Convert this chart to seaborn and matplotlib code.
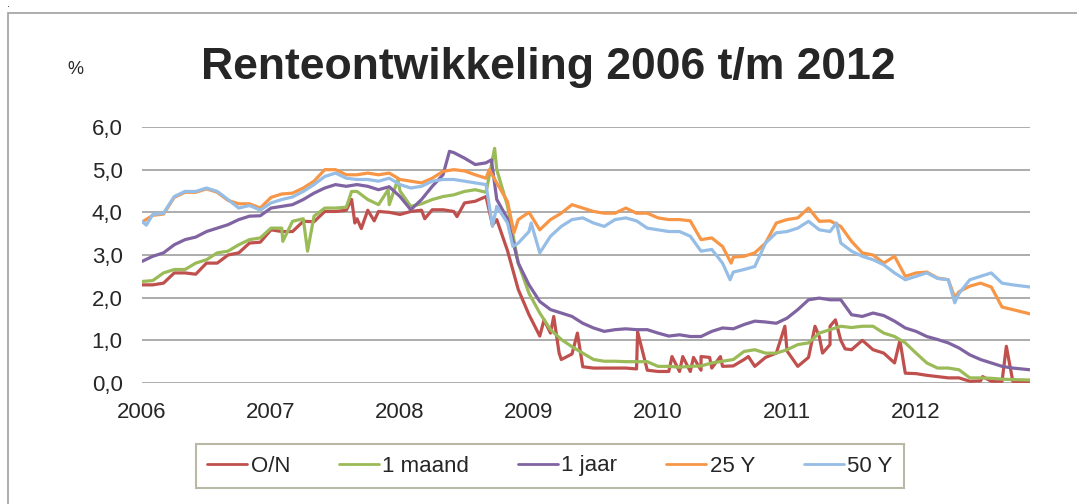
import numpy as np
import pandas as pd
import matplotlib.pyplot as plt
from matplotlib.patches import Rectangle
import seaborn as sns

# month index 0 = jan 2006, last point is mid nov 2012
months = list(range(82)) + [82.6]

on_rate = [2.30, 2.30, 2.34, 2.58, 2.58, 2.55, 2.81, 2.81, 3.00, 3.05,
           3.28, 3.30, 3.59, 3.55, 3.55, 3.79, 3.78, 4.02, 4.02, 4.05,
           3.85, 4.05, 4.02, 4.00, 3.95, 4.02, 4.05, 4.06, 4.06, 4.02,
           4.22, 4.26, 4.37, 3.83, 3.10, 2.19, 1.60, 1.10, 1.17, 0.55,
           0.68, 0.38, 0.35, 0.35, 0.35, 0.35, 0.33, 0.30, 0.27, 0.27,
           0.27, 0.27, 0.30, 0.35, 0.39, 0.40, 0.55, 0.39, 0.60, 0.70,
           0.75, 0.39, 0.60, 1.09, 0.90, 1.00, 0.78, 1.00, 0.78, 0.70,
           0.47, 0.23, 0.22, 0.18, 0.15, 0.12, 0.12, 0.04, 0.05, 0.04,
           0.04, 0.04, 0.03]
maand_1 = [2.38, 2.40, 2.58, 2.66, 2.66, 2.81, 2.89, 3.05, 3.09, 3.24,
           3.36, 3.40, 3.63, 3.63, 3.79, 3.85, 3.91, 4.10, 4.10, 4.12,
           4.49, 4.30, 4.18, 4.18, 4.50, 4.14, 4.20, 4.30, 4.37, 4.41,
           4.49, 4.53, 4.47, 5.00, 4.15, 2.81, 2.10, 1.64, 1.25, 1.02,
           0.85, 0.70, 0.55, 0.51, 0.51, 0.50, 0.50, 0.50, 0.39, 0.39,
           0.37, 0.39, 0.40, 0.47, 0.51, 0.55, 0.74, 0.78, 0.70, 0.70,
           0.78, 0.90, 0.94, 1.17, 1.25, 1.33, 1.30, 1.33, 1.33, 1.17,
           1.09, 0.94, 0.70, 0.47, 0.35, 0.35, 0.31, 0.12, 0.12, 0.11,
           0.09, 0.08, 0.07]
jaar_1 = [2.85, 2.97, 3.05, 3.24, 3.36, 3.42, 3.55, 3.63, 3.71, 3.83,
          3.91, 3.92, 4.10, 4.14, 4.18, 4.30, 4.45, 4.57, 4.65, 4.61,
          4.65, 4.61, 4.53, 4.60, 4.37, 4.06, 4.30, 4.61, 4.88, 5.40,
          5.27, 5.12, 5.16, 4.30, 3.85, 2.81, 2.30, 1.91, 1.72, 1.64,
          1.56, 1.40, 1.29, 1.21, 1.25, 1.27, 1.25, 1.25, 1.17, 1.10,
          1.13, 1.09, 1.09, 1.21, 1.29, 1.27, 1.37, 1.45, 1.43, 1.40,
          1.52, 1.72, 1.95, 1.99, 1.95, 1.95, 1.60, 1.56, 1.64, 1.58,
          1.45, 1.29, 1.21, 1.09, 1.02, 0.94, 0.82, 0.66, 0.55, 0.47,
          0.39, 0.35, 0.31]
jaar_25 = [3.77, 3.93, 3.96, 4.35, 4.47, 4.47, 4.55, 4.47, 4.28, 4.20,
           4.20, 4.10, 4.35, 4.43, 4.45, 4.57, 4.73, 5.00, 5.00, 4.88,
           4.88, 4.92, 4.88, 4.92, 4.77, 4.73, 4.69, 4.80, 4.96, 5.00,
           4.97, 4.88, 4.80, 4.69, 4.25, 3.83, 4.00, 3.59, 3.83, 3.98,
           4.18, 4.10, 4.02, 3.98, 3.98, 4.10, 3.98, 3.98, 3.87, 3.83,
           3.83, 3.80, 3.36, 3.40, 3.20, 2.95, 2.97, 3.05, 3.28, 3.75,
           3.83, 3.87, 4.10, 3.79, 3.80, 3.67, 3.32, 3.05, 3.00, 2.81,
           2.97, 2.50, 2.58, 2.60, 2.46, 2.42, 2.14, 2.27, 2.34, 2.25,
           1.78, 1.72, 1.62]
jaar_50 = [3.79, 3.95, 3.98, 4.37, 4.49, 4.49, 4.57, 4.49, 4.30, 4.10,
           4.16, 4.05, 4.22, 4.30, 4.36, 4.49, 4.65, 4.84, 4.92, 4.80,
           4.77, 4.77, 4.73, 4.80, 4.65, 4.57, 4.61, 4.73, 4.77, 4.77,
           4.73, 4.69, 4.65, 4.14, 3.75, 3.28, 3.55, 3.05, 3.44, 3.67,
           3.83, 3.87, 3.75, 3.67, 3.83, 3.87, 3.80, 3.63, 3.59, 3.55,
           3.55, 3.44, 3.09, 3.13, 2.81, 2.60, 2.66, 2.73, 3.28, 3.52,
           3.55, 3.63, 3.79, 3.59, 3.55, 3.28, 3.09, 2.97, 2.89, 2.77,
           2.58, 2.42, 2.50, 2.58, 2.45, 2.42, 2.10, 2.42, 2.50, 2.58,
           2.34, 2.30, 2.25]

# losse pieken tussen de maandwaarden (maand, rente)
on_spikes = [(19.5, 4.30), (19.8, 3.75), (20.4, 3.62), (21.6, 3.80), (26.3, 3.85),
             (29.3, 3.90), (32.6, 3.70), (37.4, 1.48), (38.3, 1.56), (38.8, 0.70),
             (40.5, 1.17), (46.1, 1.20), (49.3, 0.62), (50.3, 0.62), (51.3, 0.60),
             (52.0, 0.62), (52.8, 0.60), (53.8, 0.62), (56.4, 0.62), (59.8, 1.33),
             (62.6, 1.33), (63.3, 0.70), (64.0, 1.33), (64.5, 1.48), (65.4, 0.80),
             (70.5, 1.00), (78.2, 0.15), (80.4, 0.86)]
maand_spikes = [(13.1, 3.32), (15.4, 3.09), (19.5, 4.49), (22.9, 4.53), (23.8, 4.77),
                (32.8, 5.50)]
jaar_spikes = [(28.6, 5.43), (32.5, 5.23)]
y25_spikes = [(32.3, 5.00), (34.6, 3.52), (54.8, 2.81), (75.6, 2.00)]
y50_spikes = [(0.4, 3.70), (32.6, 3.67), (34.5, 3.20), (36.2, 3.75), (54.7, 2.42),
              (64.6, 3.75), (75.6, 1.88)]

series = ['O/N', '1 maand', '1 jaar', '25 Y', '50 Y']
colors = ['#C0504D', '#9BBB59', '#8064A2', '#F79646', '#95BDE6']
year_labels = ['2006', '2007', '2008', '2009', '2010', '2011', '2012']
y_labels = ['0,0', '1,0', '2,0', '3,0', '4,0', '5,0', '6,0']

frames = []
for name, vals, spikes in zip(series, [on_rate, maand_1, jaar_1, jaar_25, jaar_50],
                              [on_spikes, maand_spikes, jaar_spikes, y25_spikes, y50_spikes]):
    d = pd.DataFrame({'maand': months + [s[0] for s in spikes],
                      'rente': vals + [s[1] for s in spikes]})
    d['jaar'] = 2006 + d['maand'] / 12
    d['reeks'] = name
    frames.append(d.sort_values('maand'))
df = pd.concat(frames, ignore_index=True)

sns.set_style('white')
plt.rcParams['font.family'] = ['Liberation Sans', 'DejaVu Sans']

fig = plt.figure(figsize=(10.77, 5.04), dpi=100)
ax = fig.add_axes([142 / 1077, 1 - 383 / 504, (1030 - 142) / 1077, 256 / 504])

sns.lineplot(data=df, x='jaar', y='rente', hue='reeks', hue_order=series,
             palette=colors, estimator=None, sort=True, linewidth=2.3, ax=ax)

ax.set_xlim(2006, 2006 + 82.6 / 12)
ax.set_ylim(0, 6)
ax.set_xticks(range(2006, 2013))
ax.set_xticklabels(year_labels, fontsize=16)
ax.set_yticks(range(7))
ax.set_yticklabels(y_labels, fontsize=16)
ax.tick_params(length=0, pad=14)
ax.grid(axis='y', color='#A6A6A6', linewidth=1.3)
ax.set_axisbelow(True)
for s in ax.spines.values():
    s.set_visible(False)
ax.set_xlabel('')
ax.set_ylabel('')

handles, labels = ax.get_legend_handles_labels()
for h in handles:
    h.set_linewidth(2)
ax.legend(handles, labels, ncol=5, loc='center', bbox_to_anchor=(550 / 1077, 1 - 466 / 504),
          bbox_transform=fig.transFigure, fontsize=16, frameon=True, fancybox=False,
          edgecolor='#A8A890', handlelength=1.8, handletextpad=0.15, columnspacing=2.2,
          borderpad=0.5)
ax.get_legend().get_frame().set_linewidth(1.5)

fig.text(548 / 1077, 1 - 68 / 504, 'Renteontwikkeling 2006 t/m 2012', fontsize=32,
         fontweight='bold', ha='center', va='center')
fig.text(75 / 1077, 1 - 70 / 504, '%', fontsize=13, ha='center', va='center')
fig.text(8 / 1077, 1 - 4 / 504, '.', fontsize=8, ha='center', va='center')

# kader rond de grafiek
fig.patches.append(Rectangle((8 / 1077, -0.1), 1.2, 1 - 13 / 504 + 0.1, transform=fig.transFigure,
                             fill=False, edgecolor='#A0A0A0', linewidth=1.2))

fig.savefig('out.png', dpi=100)
